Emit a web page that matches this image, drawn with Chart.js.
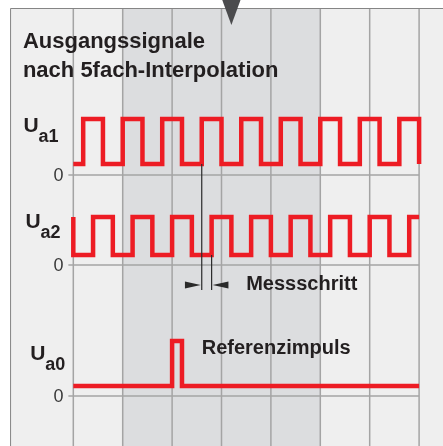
<!DOCTYPE html>
<html>
<head>
<meta charset="utf-8">
<script src="https://cdn.jsdelivr.net/npm/chart.js@4/dist/chart.umd.min.js"></script>
<style>
  html, body { margin: 0; padding: 0; background: #fff; }
  #wrap { width: 443px; height: 446px; }
</style>
</head>
<body>
<div id="wrap"><canvas id="signalChart" width="443" height="446"></canvas></div>
<script>
// x: grid divisions (one signal period = 0.8 div), y: levels in ~10px steps from the bottom
const gridTicks = [0, 1, 2, 3, 4, 5, 6, 7];
const shadedBand = [1, 5];
const channelNames = ['a1', 'a2', 'a0'];
const zeroLevels = [27.1, 18.1, 5.0];
const lowLevels = [28.2, 19.1, 6.0];
const highLevels = [32.7, 22.9, 10.5];
const startHigh = [false, true, false];
const ua1Edges = [0.2, 0.6, 1.0, 1.4, 1.8, 2.2, 2.6, 3.0, 3.4, 3.8, 4.2, 4.6, 5.0, 5.4, 5.8, 6.2, 6.6, 7.0];
const ua2Edges = [0.0, 0.4, 0.8, 1.2, 1.6, 2.0, 2.4, 2.8, 3.2, 3.6, 4.0, 4.4, 4.8, 5.2, 5.6, 6.0, 6.4, 6.8];
const ua0Edges = [2.0, 2.2];
const signalEnd = 7;
const messschritt = [2.6, 2.8];

const titleLines = ['Ausgangssignale', 'nach 5fach-Interpolation'];
const labelLevels = [31.4, 21.8, 8.6];
const labelX = [-1.01, -0.97, -0.87];

const RED = '#ed1c24';
const INK = '#231f20';
const FONT = '"Liberation Sans", Arial, Helvetica, sans-serif';

// square wave: horizontal run, then a vertical jump at every edge
function buildSteps(edges, i) {
    let high = startHigh[i];
    const lvl = () => (high ? highLevels[i] : lowLevels[i]);
    const pts = [{ x: 0, y: lvl() }];
    edges.forEach((e) => {
        pts.push({ x: e, y: lvl() });
        high = !high;
        pts.push({ x: e, y: lvl() });
    });
    const last = pts[pts.length - 1];
    if (last.x < signalEnd) pts.push({ x: signalEnd, y: last.y });
    return pts;
}

const backdrop = {
    id: 'backdrop',
    beforeDatasetsDraw(chart) {
        const { ctx, scales: { x, y } } = chart;
        const W = chart.width, H = chart.height;
        const left = x.getPixelForValue(-1.28);
        const top = y.getPixelForValue(43.8);
        ctx.save();
        ctx.fillStyle = '#ffffff';
        ctx.fillRect(0, 0, W, H);
        ctx.fillStyle = '#efefef';
        ctx.fillRect(left, top, W - left, H - top);
        ctx.fillStyle = '#dcdddf';
        const b0 = x.getPixelForValue(shadedBand[0]);
        const b1 = x.getPixelForValue(shadedBand[1]);
        ctx.fillRect(b0, top, b1 - b0, H - top);

        ctx.strokeStyle = '#a4a4a4';
        ctx.lineWidth = 1.5;
        gridTicks.forEach((t) => {
            const px = x.getPixelForValue(t);
            ctx.beginPath();
            ctx.moveTo(px, top);
            ctx.lineTo(px, H);
            ctx.stroke();
        });
        zeroLevels.forEach((z) => {
            const py = y.getPixelForValue(z);
            ctx.beginPath();
            ctx.moveTo(x.getPixelForValue(-0.1), py);
            ctx.lineTo(x.getPixelForValue(7), py);
            ctx.stroke();
        });

        ctx.strokeStyle = '#858585';
        ctx.lineWidth = 1;
        ctx.beginPath();
        ctx.moveTo(left + 0.5, H);
        ctx.lineTo(left + 0.5, top + 0.5);
        ctx.lineTo(W, top + 0.5);
        ctx.stroke();

        // position marker
        ctx.fillStyle = '#4b4b4d';
        ctx.beginPath();
        ctx.moveTo(x.getPixelForValue(3.2 - 0.185), 0);
        ctx.lineTo(x.getPixelForValue(3.2 + 0.185), 0);
        ctx.lineTo(x.getPixelForValue(3.2), y.getPixelForValue(42.1));
        ctx.closePath();
        ctx.fill();
        ctx.restore();
    },
    afterDatasetsDraw(chart) {
        const { ctx, scales: { x, y } } = chart;
        ctx.save();
        ctx.fillStyle = INK;
        ctx.textBaseline = 'alphabetic';
        ctx.textAlign = 'left';
        ctx.font = 'bold 22px ' + FONT;
        ctx.fillText(titleLines[0], x.getPixelForValue(-1.02), y.getPixelForValue(39.8));
        ctx.fillText(titleLines[1], x.getPixelForValue(-1.02), y.getPixelForValue(36.9));

        channelNames.forEach((n, i) => {
            const lx = x.getPixelForValue(labelX[i]);
            const ly = y.getPixelForValue(labelLevels[i]);
            ctx.font = 'bold 21px ' + FONT;
            ctx.fillText('U', lx, ly);
            ctx.font = 'bold 18px ' + FONT;
            ctx.fillText(n, lx + 15, ly + 10);

            ctx.font = '18px ' + FONT;
            ctx.fillStyle = '#3a3a3a';
            ctx.textAlign = 'right';
            ctx.textBaseline = 'middle';
            ctx.fillText('0', x.getPixelForValue(-0.2), y.getPixelForValue(zeroLevels[i]) + 1);
            ctx.fillStyle = INK;
            ctx.textAlign = 'left';
            ctx.textBaseline = 'alphabetic';
        });

        // Messschritt marker
        ctx.strokeStyle = '#2a2a2a';
        ctx.lineWidth = 1.2;
        const m0 = x.getPixelForValue(messschritt[0]);
        const m1 = x.getPixelForValue(messschritt[1]);
        const mBottom = y.getPixelForValue(15.6);
        ctx.beginPath();
        ctx.moveTo(m0, y.getPixelForValue(lowLevels[0]));
        ctx.lineTo(m0, mBottom);
        ctx.moveTo(m1, y.getPixelForValue(lowLevels[1]));
        ctx.lineTo(m1, mBottom);
        ctx.stroke();
        const ay = y.getPixelForValue(16.1);
        ctx.fillStyle = '#2a2a2a';
        ctx.beginPath();
        ctx.moveTo(x.getPixelForValue(2.26), ay - 3.5);
        ctx.lineTo(m0 - 1, ay);
        ctx.lineTo(x.getPixelForValue(2.26), ay + 3.5);
        ctx.closePath();
        ctx.fill();
        ctx.beginPath();
        ctx.moveTo(x.getPixelForValue(3.14), ay - 3.5);
        ctx.lineTo(m1 + 1, ay);
        ctx.lineTo(x.getPixelForValue(3.14), ay + 3.5);
        ctx.closePath();
        ctx.fill();

        ctx.fillStyle = INK;
        ctx.font = 'bold 20px ' + FONT;
        ctx.textBaseline = 'middle';
        ctx.fillText('Messschritt', x.getPixelForValue(3.5), y.getPixelForValue(16.15));
        ctx.textBaseline = 'alphabetic';
        ctx.fillText('Referenzimpuls', x.getPixelForValue(2.6), y.getPixelForValue(9.24));
        ctx.restore();
    },
};

const signals = [ua1Edges, ua2Edges, ua0Edges].map((edges, i) => ({
    label: 'U' + channelNames[i],
    data: buildSteps(edges, i),
    borderColor: RED,
    borderWidth: 4.5,
    borderJoinStyle: 'miter',
    borderCapStyle: 'butt',
    tension: 0,
    pointRadius: 0,
    fill: false,
}));

new Chart(document.getElementById('signalChart'), {
    type: 'line',
    data: { datasets: signals },
    options: {
        responsive: false,
        animation: false,
        events: [],
        layout: { padding: 0 },
        plugins: { legend: { display: false }, tooltip: { enabled: false } },
        scales: {
            x: { type: 'linear', min: -1.484, max: 7.484, display: false },
            y: { type: 'linear', min: 0, max: 44.6, display: false },
        },
    },
    plugins: [backdrop],
});
</script>
</body>
</html>
